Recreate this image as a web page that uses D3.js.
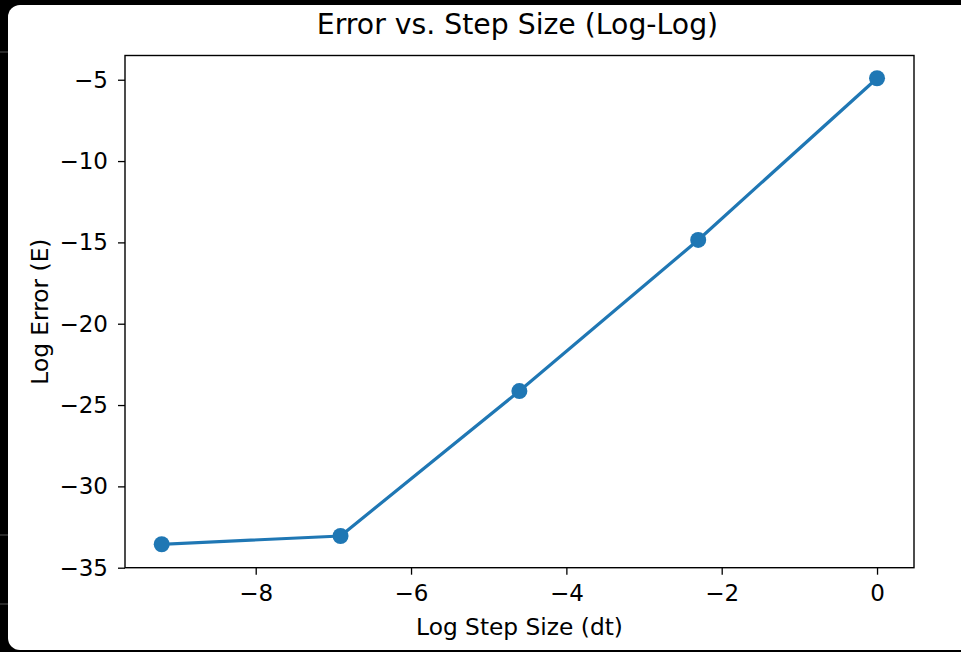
<!DOCTYPE html>
<html>
<head>
<meta charset="utf-8">
<script src="https://cdn.jsdelivr.net/npm/d3@7"></script>
<style>
  html, body { margin: 0; padding: 0; background: #000; }
  svg { display: block; }
</style>
</head>
<body>
<svg id="chart" width="961" height="652"></svg>
<script>
// Data (natural log of step size vs natural log of error)
const logStepSize = [-9.2103, -6.9078, -4.6052, -2.3026, 0];
const logError = [-33.56, -33.05, -24.14, -14.85, -4.91];
const xTicks = [-8, -6, -4, -2, 0];
const yTicks = [-35, -30, -25, -20, -15, -10, -5];
const titleText = "Error vs. Step Size (Log-Log)";
const xLabelText = "Log Step Size (dt)";
const yLabelText = "Log Error (E)";

const svg = d3.select("#chart");
const W = 961, H = 652;
const font = "'DejaVu Sans', sans-serif";
const color = "#1f77b4";

// window background
svg.append("rect").attr("x", 0).attr("y", 0).attr("width", W).attr("height", H).attr("fill", "#000");
svg.append("rect").attr("x", 8).attr("y", 5).attr("width", W + 20).attr("height", H - 7)
  .attr("rx", 12).attr("ry", 12).attr("fill", "#fff");
// small marks on left edge
[52, 535, 604].forEach(y => {
  svg.append("line").attr("x1", 0).attr("x2", 8).attr("y1", y).attr("y2", y)
    .attr("stroke", "#555").attr("stroke-width", 1);
});

const plot = { left: 125, right: 914, top: 55.5, bottom: 567.7 };

const x = d3.scaleLinear().domain([-9.683, 0.476]).range([plot.left, plot.right]);
const y = d3.scaleLinear().domain([-35.0, -3.51]).range([plot.bottom, plot.top]);

const fmt = d => d3.format("d")(d).replace("-", "\u2212");

// axes
const xAxis = svg.append("g").attr("transform", `translate(0,${plot.bottom})`)
  .call(d3.axisBottom(x).tickValues(xTicks).tickFormat(fmt).tickSize(7).tickPadding(10).tickSizeOuter(0));
const yAxis = svg.append("g").attr("transform", `translate(${plot.left},0)`)
  .call(d3.axisLeft(y).tickValues(yTicks).tickFormat(fmt).tickSize(7).tickPadding(10).tickSizeOuter(0));
[xAxis, yAxis].forEach(g => {
  g.select(".domain").remove();
  g.selectAll(".tick line").attr("stroke", "#000").attr("stroke-width", 1.3);
  g.selectAll(".tick text").attr("fill", "#000").style("font-family", font).style("font-size", "23px");
});

// frame
svg.append("rect").attr("x", plot.left).attr("y", plot.top)
  .attr("width", plot.right - plot.left).attr("height", plot.bottom - plot.top)
  .attr("fill", "none").attr("stroke", "#000").attr("stroke-width", 1.4);

// line
const pts = logStepSize.map((v, i) => [v, logError[i]]);
svg.append("path").datum(pts)
  .attr("d", d3.line().x(d => x(d[0])).y(d => y(d[1])))
  .attr("fill", "none").attr("stroke", color).attr("stroke-width", 3.2)
  .attr("stroke-linejoin", "round").attr("stroke-linecap", "square");
svg.selectAll("circle.pt").data(pts).enter().append("circle").attr("class", "pt")
  .attr("cx", d => x(d[0])).attr("cy", d => y(d[1])).attr("r", 8).attr("fill", color);

// titles
svg.append("text").attr("x", 517.5).attr("y", 33.5)
  .attr("text-anchor", "middle").style("font-family", font).style("font-size", "28.3px")
  .attr("fill", "#000").text(titleText);
svg.append("text").attr("x", (plot.left + plot.right) / 2).attr("y", 635)
  .attr("text-anchor", "middle").style("font-family", font).style("font-size", "23.3px")
  .attr("fill", "#000").text(xLabelText);
svg.append("text").attr("transform", `translate(48,${(plot.top + plot.bottom) / 2}) rotate(-90)`)
  .attr("text-anchor", "middle").style("font-family", font).style("font-size", "23.3px")
  .attr("fill", "#000").text(yLabelText);
</script>
</body>
</html>
